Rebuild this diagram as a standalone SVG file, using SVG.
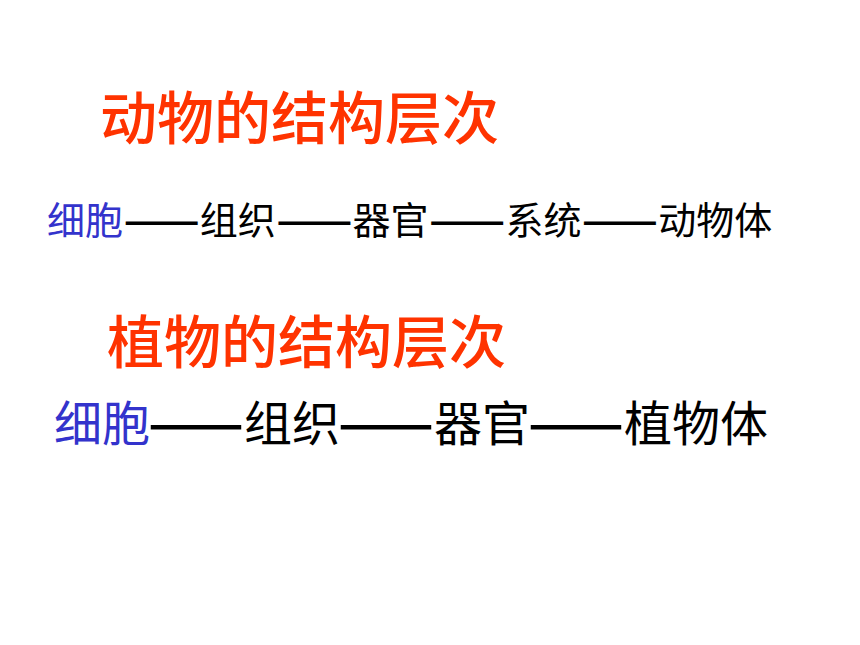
<svg xmlns="http://www.w3.org/2000/svg" width="860" height="645" viewBox="0 0 860 645">
<style>
text{font-family:"Noto Sans CJK SC","Noto Sans CJK TC",sans-serif;}
.title{fill:#FF3300;font-size:57px;font-weight:500;}
.cell{fill:#3333CC;}
.row{fill:#000000;}
.dash{fill:#000000;font-weight:bold;}
.r1{font-size:38px;}
.r2{font-size:48px;}
</style>
<rect x="0" y="0" width="860" height="645" fill="#FFFFFF"/>
<g id="animal-title"><text class="title" x="100" y="139">动物的结构层次</text></g>
<g id="animal-row">
<text class="cell r1" x="47" y="234">细胞</text>
<text class="row r1" x="199.8" y="234">组织</text>
<text class="row r1" x="352.6" y="234">器官</text>
<text class="row r1" x="505.4" y="234">系统</text>
<text class="row r1" x="658.2" y="234">动物体</text>
</g>
<g id="plant-title"><text class="title" x="107" y="363">植物的结构层次</text></g>
<g id="plant-row">
<text class="cell r2" x="54" y="441">细胞</text>
<text class="row r2" x="244" y="441">组织</text>
<text class="row r2" x="434" y="441">器官</text>
<text class="row r2" x="624" y="441">植物体</text>
</g>
<g id="connectors">
<text class="dash r1" x="123.4" y="234" textLength="76.4" lengthAdjust="spacingAndGlyphs">——</text>
<text class="dash r1" x="276.2" y="234" textLength="76.4" lengthAdjust="spacingAndGlyphs">——</text>
<text class="dash r1" x="429" y="234" textLength="76.4" lengthAdjust="spacingAndGlyphs">——</text>
<text class="dash r1" x="581.8" y="234" textLength="76.4" lengthAdjust="spacingAndGlyphs">——</text>
<text class="dash r2" x="148" y="441" textLength="96" lengthAdjust="spacingAndGlyphs">——</text>
<text class="dash r2" x="338" y="441" textLength="96" lengthAdjust="spacingAndGlyphs">——</text>
<text class="dash r2" x="528" y="441" textLength="96" lengthAdjust="spacingAndGlyphs">——</text>
</g>
</svg>
